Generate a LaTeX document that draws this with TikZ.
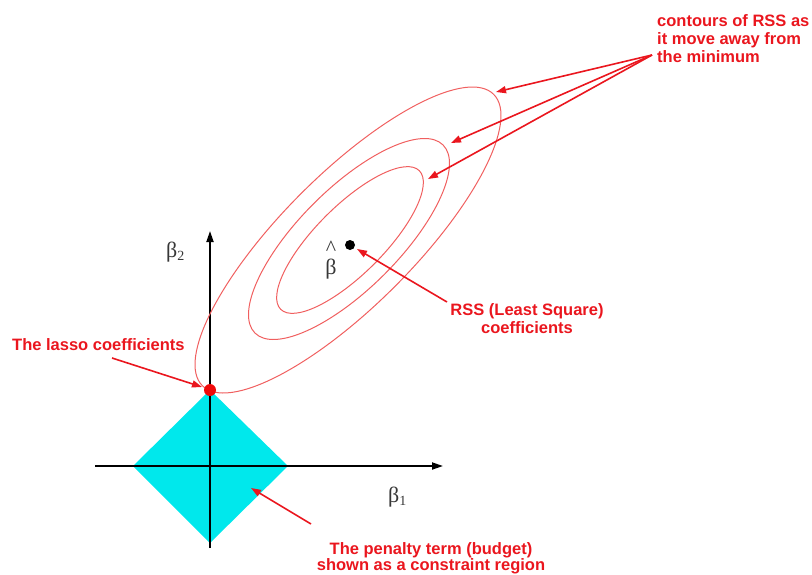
\documentclass[tikz,border=0pt]{standalone}
\usepackage{fontspec}
\setmainfont{Liberation Sans}
\newfontfamily\grk{Liberation Serif}
\usetikzlibrary{arrows.meta}
\definecolor{lblred}{RGB}{234,22,30}
\definecolor{contred}{RGB}{240,95,95}
\definecolor{diamcyan}{RGB}{0,232,236}
\definecolor{axgray}{RGB}{55,55,55}
\definecolor{dotred}{RGB}{240,10,10}
\tikzset{
  lbl/.style={text=lblred, font=\fontsize{16.5}{18}\selectfont\bfseries, inner sep=0pt},
  callout/.style={draw=lblred, line width=1.6pt, -{Triangle[length=10pt,width=7pt]}},
  contour/.style={draw=contred, line width=1pt},
  axisline/.style={draw=black, line width=1.8pt, -{Triangle[length=11pt,width=7pt]}},
  greek/.style={text=axgray, font=\grk\fontsize{22}{22}\selectfont, inner sep=0pt},
  dotnode/.style={circle, inner sep=0pt},
}
\begin{document}
\begin{tikzpicture}[x=1pt,y=-1pt]
\useasboundingbox (0,0) rectangle (812,574);
% constraint region
\fill[diamcyan] (210,390) -- (288,466) -- (210,543) -- (133,466) -- cycle;
% axes
\coordinate (xs) at (95,466);
\coordinate (xe) at (443,466);
\coordinate (ys) at (210,548);
\coordinate (ye) at (210,231);
\draw[axisline] (xs) -- (xe);
\draw[axisline] (ys) -- (ye);
% contours
\coordinate (co) at (348,240);
\coordinate (cm) at (349,239);
\coordinate (ci) at (350,240);
\draw[contour, rotate around={45:(co)}] (co) ellipse [x radius=206, y radius=66];
\draw[contour, rotate around={45:(cm)}] (cm) ellipse [x radius=133, y radius=50];
\draw[contour, rotate around={45:(ci)}] (ci) ellipse [x radius=98, y radius=34];
% points
\node[dotnode, fill=dotred, minimum size=12pt] (lasso) at (210,390) {};
\node[dotnode, fill=black, minimum size=10pt] (bhat) at (350,245) {};
% greek labels
\node[greek, anchor=base west] (b2) at (166,257) {β\raisebox{-0.17em}{\fontsize{14}{14}\selectfont 2}};
\node[greek, anchor=base west] (b1) at (388,502) {β\raisebox{-0.17em}{\fontsize{14}{14}\selectfont 1}};
\node[greek, anchor=base] (bh) at (331,274) {β};
\node[greek, anchor=base] (bhacc) at (331,255.5) {\textasciicircum};
% text labels
\node[lbl, anchor=north west, align=left] (contlbl) at (657,14) {contours of RSS as\\it move away from\\the minimum};
\node[lbl, anchor=north, align=center] (rsslbl) at (527,303) {RSS (Least Square)\\coefficients};
\node[lbl, anchor=base west] (lassolbl) at (12,350) {The lasso coefficients};
\node[lbl, anchor=north, align=center, font=\fontsize{16.5}{16.5}\selectfont\bfseries] (penlbl) at (431,542) {The penalty term (budget)\\shown as a constraint region};
% callouts
\coordinate (cs) at (652,55);
\coordinate (c1) at (496,92);
\coordinate (c2) at (451,143);
\coordinate (c3) at (428,179);
\draw[callout] (cs) -- (c1);
\draw[callout] (cs) -- (c2);
\draw[callout] (cs) -- (c3);
\coordinate (rs) at (447,302);
\coordinate (re) at (357,249);
\draw[callout] (rs) -- (re);
\coordinate (ls) at (112,358);
\coordinate (le) at (202,387);
\draw[callout] (ls) -- (le);
\coordinate (ps) at (311,524);
\coordinate (pe) at (251,488);
\draw[callout] (ps) -- (pe);
\end{tikzpicture}
\end{document}
